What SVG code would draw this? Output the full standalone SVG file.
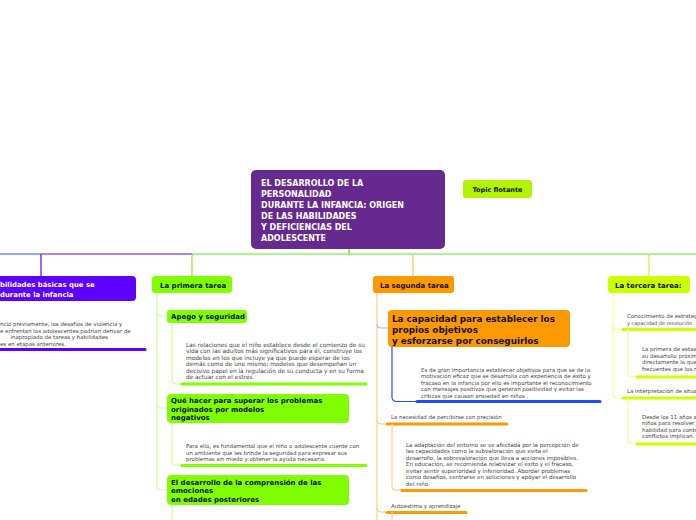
<svg xmlns="http://www.w3.org/2000/svg" width="696" height="520" viewBox="0 0 696 520">
<style>
text{font-family:"DejaVu Sans",Verdana,sans-serif}
.t{font-weight:bold;font-size:7px;fill:#111}
.big{font-size:8.8px}
.p{font-size:5.45px;fill:#444}
.a{font-size:5.8px;fill:#444}
.s{font-size:5.5px;fill:#444}
.c{fill:none;stroke-width:1.2}
.u{fill:none;stroke-width:3;stroke-linecap:round}
</style>
<rect width="696" height="520" fill="#fff"/>
<g id="connectors">
<path class="c" d="M349 249 V254" stroke="#44dd11"/>
<path class="c" d="M0 254 H41" stroke="#1a5cff"/>
<path class="c" d="M41 254 H192" stroke="#5c00ff"/>
<path class="c" d="M192 254 H696" stroke="#55ee22"/>
<path class="c" d="M41 254 V276" stroke="#5c00ff"/>
<path class="c" d="M194 254 Q192 254 192 257 V276" stroke="#88ee33"/>
<path class="c" d="M411 254 Q413 254 413 257 V276" stroke="#ffbb66"/>
<path class="c" d="M647 254 Q649 254 649 257 V276" stroke="#ccee44"/>
<path class="c" d="M157 293 V486 Q157 490 161 490 H167" stroke="#ccff99"/>
<path class="c" d="M157 313 Q157 316 161 316 H167" stroke="#ccff99"/>
<path class="c" d="M157 405 Q157 408 161 408 H167" stroke="#ccff99"/>
<path class="c" d="M172 323 V380 Q172 384 176 384 H181" stroke="#ccff99"/>
<path class="c" d="M172 423 V461 Q172 465 176 465 H181" stroke="#ccff99"/>
<path class="c" d="M172 505 V520" stroke="#ccff99"/>
<path class="u" d="M182 384 H366" stroke="#80ff00"/>
<path class="u" d="M182 465.5 H366" stroke="#80ff00"/>
<path class="c" d="M377 293 V520" stroke="#ffcc88"/>
<path class="c" d="M377 324 Q377 328 381 328 H388" stroke="#aabbff"/>
<path class="c" d="M392 347 V397 Q392 401.5 397 401.5 H416" stroke="#1a4fff"/>
<path class="u" d="M417 401.5 H600" stroke="#1a4fff"/>
<path class="c" d="M377 420 Q377 424 381 424 H386" stroke="#ffcc88"/>
<path class="u" d="M387 424 H507" stroke="#ff9900"/>
<path class="c" d="M392 424 V486 Q392 490 396 490 H401" stroke="#ffcc88"/>
<path class="u" d="M402 490.5 H586" stroke="#ff9900"/>
<path class="c" d="M377 508 Q377 512 381 512 H386" stroke="#ffcc88"/>
<path class="u" d="M387 512.5 H466" stroke="#ff9900"/>
<path class="c" d="M392 512 V520" stroke="#ffcc88"/>
<path class="c" d="M613 293 V394 Q613 398 617 398 H622" stroke="#eeff99"/>
<path class="c" d="M613 325 Q613 329 617 329 H622" stroke="#eeff99"/>
<path class="u" d="M623 329.5 H700" stroke="#ccff00"/>
<path class="c" d="M628 329 V372.5 Q628 376.5 632 376.5 H636" stroke="#eeff99"/>
<path class="u" d="M637 377 H700" stroke="#ccff00"/>
<path class="u" d="M623 398 H700" stroke="#ccff00"/>
<path class="c" d="M628 398 V439.5 Q628 443.5 632 443.5 H636" stroke="#eeff99"/>
<path class="u" d="M637 444 H700" stroke="#ccff00"/>
<path class="u" d="M-5 349.5 H145" stroke="#5c00ff"/>
</g>
<g id="central">
<rect x="251" y="170" width="194" height="79" rx="5" fill="#66298f"/>
<text x="261" y="186" font-size="8" font-weight="bold" fill="#fff"><tspan x="261">EL DESARROLLO DE LA</tspan><tspan x="261" dy="11">PERSONALIDAD</tspan><tspan x="261" dy="11">DURANTE LA INFANCIA: ORIGEN</tspan><tspan x="261" dy="11">DE LAS HABILIDADES</tspan><tspan x="261" dy="11">Y DEFICIENCIAS DEL</tspan><tspan x="261" dy="11">ADOLESCENTE</tspan></text>
</g>
<g id="flotante">
<rect x="463" y="180" width="69" height="18" rx="3" fill="#b3f500"/>
<text x="497.5" y="192" class="t" style="font-size:6.5px" text-anchor="middle">Topic flotante</text>
</g>
<g id="habilidades">
<rect x="-10" y="276" width="146" height="25" rx="4" fill="#5c00ff"/>
<text x="0" y="287" font-size="6.9" font-weight="bold" fill="#fff"><tspan x="0">bilidades básicas que se</tspan><tspan x="0" dy="10">durante la infancia</tspan></text>
</g>
<g id="habilidades-texto">
<text class="p"><tspan x="0" y="326">nció previamente, los desafíos de violencia y</tspan><tspan x="0" y="332.5">e enfrentan los adolescentes podrían derivar de</tspan><tspan x="10.5" y="339">inapropiado de tareas y habilidades</tspan><tspan x="0" y="345.5">es en etapas anteriores.</tspan></text>
</g>
<g id="primera">
<rect x="152" y="276" width="80" height="17" rx="3" fill="#80ff00"/>
<text x="160" y="287.5" class="t">La primera tarea</text>
</g>
<g id="apego">
<rect x="167" y="310" width="80" height="13" rx="3" fill="#80ff00"/>
<text x="171" y="319" class="t">Apego y seguridad</text>
</g>
<g id="apego-texto">
<text class="a"><tspan x="186" y="346.5">Las relaciones que el niño establece desde el comienzo de su</tspan><tspan x="186" y="353">vida con las adultos más significativos para él, construye los</tspan><tspan x="186" y="359.5">modelos en los que incluye ya que puede esperar de los</tspan><tspan x="186" y="366">demás como de uno mismo; modelos que desempeñan un</tspan><tspan x="186" y="372.5">decisivo papel en la regulación de su conducta y en su forma</tspan><tspan x="186" y="379">de actuar con el estrés.</tspan></text>
</g>
<g id="que-hacer">
<rect x="167" y="394" width="182" height="29" rx="4" fill="#80ff00"/>
<text class="t"><tspan x="171" y="403">Qué hacer para superar los problemas</tspan><tspan x="171" y="411.5">originados por modelos</tspan><tspan x="171" y="420">negativos</tspan></text>
</g>
<g id="que-hacer-texto">
<text class="p"><tspan x="186" y="448">Para ello, es fundamental que el niño o adolescente cuente con</tspan><tspan x="186" y="454.5">un ambiente que les brinde la seguridad para expresar sus</tspan><tspan x="186" y="461">problemas sin miedo y obtener la ayuda necesaria.</tspan></text>
</g>
<g id="emociones">
<rect x="167" y="475" width="182" height="30" rx="4" fill="#80ff00"/>
<text class="t"><tspan x="171" y="484.5">El desarrollo de la comprensión de las</tspan><tspan x="171" y="493">emociones</tspan><tspan x="171" y="501.5">en edades posteriores</tspan></text>
</g>
<g id="segunda">
<rect x="373" y="276" width="81" height="17" rx="3" fill="#ff9900"/>
<text x="380" y="287.5" class="t">La segunda tarea</text>
</g>
<g id="capacidad">
<rect x="388" y="310" width="182" height="37" rx="4" fill="#ff9900"/>
<text class="t big"><tspan x="392" y="322">La capacidad para establecer los</tspan><tspan x="392" y="333">propios objetivos</tspan><tspan x="392" y="344">y esforzarse por conseguirlos</tspan></text>
</g>
<g id="capacidad-texto">
<text class="p"><tspan x="421" y="371.5">Es de gran importancia establecer objetivos para que se de la</tspan><tspan x="421" y="378">motivación eficaz que se  desarrolla con experiencia de éxito y</tspan><tspan x="421" y="384.5">fracaso en la  infancia por ello es importante el reconocimiento</tspan><tspan x="421" y="391">con mensajes positivos que generan positividad y evitar las</tspan><tspan x="421" y="397.5">críticas que causan ansiedad en niños .</tspan></text>
</g>
<g id="percibirse">
<text x="391" y="419" class="p">La necesidad de percibirse con precisión</text>
</g>
<g id="percibirse-texto">
<text class="s"><tspan x="406" y="446.5">La adaptación del entorno se ve afectada por la percepción de</tspan><tspan x="406" y="453">las capacidades como la  subvaloración que  evita el</tspan><tspan x="406" y="459.5">desarrollo, la sobrevaloración que lleva a acciones imposibles.</tspan><tspan x="406" y="466">En educación, se recomienda relativizar el  éxito y el fracaso,</tspan><tspan x="406" y="472.5">evitar sentir superioridad y inferioridad. Abordar problemas</tspan><tspan x="406" y="479">como desafíos, centrarse en soluciones y apoyar el desarrollo</tspan><tspan x="406" y="485.5">del niño.</tspan></text>
</g>
<g id="autoestima">
<text x="391" y="508" class="p">Autoestima y aprendizaje</text>
</g>
<g id="tercera">
<rect x="608" y="276" width="82" height="17" rx="3" fill="#ccff00"/>
<text x="615" y="287.5" class="t">La tercera tarea:</text>
</g>
<g id="estrategias">
<text class="p" x="627" y="318">Conocimiento de estrateg</text>
<text class="p" x="627" y="324.5" style="font-size:5px">y capacidad de resolución</text>
</g>
<g id="estrategias-texto">
<text class="p"><tspan x="642" y="351">La primera de estas</tspan><tspan x="642" y="357.5">su desarrollo próxim</tspan><tspan x="642" y="364">directamente lo que</tspan><tspan x="642" y="370.5">frecuentes que los n</tspan></text>
</g>
<g id="interpretacion">
<text x="627" y="393" class="p">La interpretación de situa</text>
</g>
<g id="interpretacion-texto">
<text class="p"><tspan x="642" y="418.5">Desde los 11 años a</tspan><tspan x="642" y="425">niños para resolver</tspan><tspan x="642" y="431.5">habilidad para contr</tspan><tspan x="642" y="438">conflictos implican.</tspan></text>
</g>
</svg>
